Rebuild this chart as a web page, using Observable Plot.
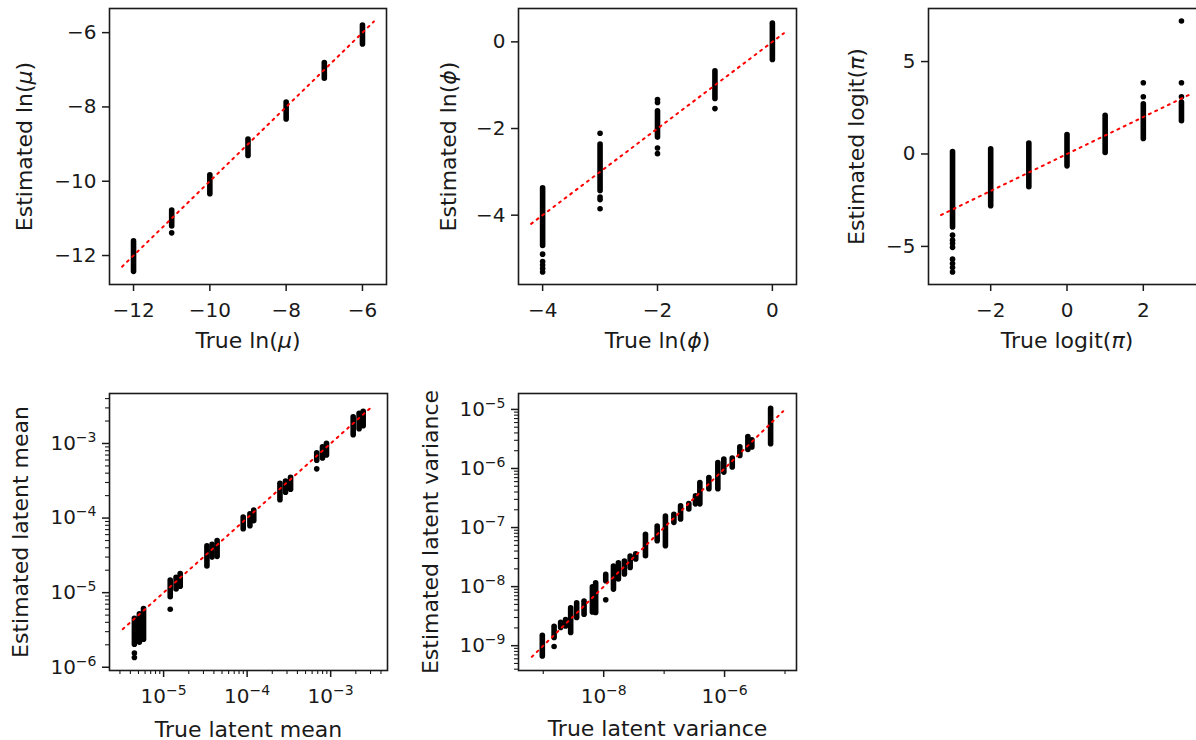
<!DOCTYPE html>
<html>
<head>
<meta charset="utf-8">
<script src="https://cdn.jsdelivr.net/npm/d3@7"></script>
<script src="https://cdn.jsdelivr.net/npm/@observablehq/plot@0.6"></script>
<style>
html, body { margin: 0; padding: 0; background: #fff; overflow: hidden; }
#fig { position: relative; width: 1196px; height: 740px; overflow: hidden; background: #fff; }
#fig > div { position: absolute; }
</style>
</head>
<body>
<div id="fig"></div>
<script>
// ---------------- DATA ----------------
// Panel 1: ln(mu)
const muTrue      = [-12, -11, -10, -9, -8, -7, -6];
const muEstLow    = [-12.44, -11.22, -10.35, -9.32, -8.34, -7.24, -6.32];
const muEstHigh   = [-11.62, -10.79, -9.84, -8.88, -7.88, -6.82, -5.81];
const muOutlierX  = [-11];
const muOutlierY  = [-11.39];
const muRefLine   = [-12.3, -5.7];
const muXDomain   = [-12.63, -5.37];
const muYDomain   = [-12.78, -5.35];
const muXTicks    = [-12, -10, -8, -6];
const muYTicks    = [-12, -10, -8, -6];

// Panel 2: ln(phi)
const phiTrue     = [-4, -3, -2, -1, 0];
const phiEstLow   = [-4.71, -3.44, -2.21, -1.32, -0.42];
const phiEstHigh  = [-3.38, -2.37, -1.60, -0.68, 0.42];
const phiOutlierX = [-4, -4, -4, -4, -4, -3, -3, -3, -3, -2, -2, -2, -2, -1];
const phiOutlierY = [-4.90, -5.07, -5.15, -5.23, -5.31, -2.11, -3.58, -3.64, -3.85, -1.33, -1.40, -2.45, -2.58, -1.54];
const phiRefLine  = [-4.2, 0.2];
const phiXDomain  = [-4.42, 0.42];
const phiYDomain  = [-5.6, 0.77];
const phiXTicks   = [-4, -2, 0];
const phiYTicks   = [-4, -2, 0];

// Panel 3: logit(pi)
const piTrue      = [-3, -2, -1, 0, 1, 2, 3];
const piEstLow    = [-3.97, -2.83, -1.80, -0.67, 0.05, 0.81, 1.77];
const piEstHigh   = [0.11, 0.25, 0.57, 1.03, 2.06, 2.69, 2.78];
const piOutlierX  = [-3, -3, -3, -3, -3, -3, -3, -3, 2, 2, 3, 3, 3];
const piOutlierY  = [-4.39, -4.66, -4.84, -5.05, -5.69, -5.92, -6.14, -6.38, 3.10, 3.85, 3.10, 3.85, 7.19];
const piRefLine   = [-3.3, 3.3];
const piXDomain   = [-3.63, 3.63];
const piYDomain   = [-7.06, 7.87];
const piXTicks    = [-2, 0, 2];
const piYTicks    = [-5, 0, 5];

// Panel 4: latent mean (log-log)
const meanTrue    = [4.47e-6, 5.13e-6, 5.75e-6, 1.2e-5, 1.41e-5, 1.58e-5, 3.3e-5, 3.8e-5, 4.37e-5, 8.97e-5, 1.08e-4, 1.2e-4, 2.47e-4, 2.88e-4, 3.31e-4, 6.81e-4, 7.98e-4, 8.91e-4, 1.86e-3, 2.19e-3, 2.45e-3];
const meanEstLow  = [2.0e-6, 2.14e-6, 2.34e-6, 8.7e-6, 1.1e-5, 1.2e-5, 2.24e-5, 2.95e-5, 3.02e-5, 7.08e-5, 7.76e-5, 9.1e-5, 1.74e-4, 2.19e-4, 2.4e-4, 5.89e-4, 6.31e-4, 6.92e-4, 1.29e-3, 1.55e-3, 1.7e-3];
const meanEstHigh = [4.47e-6, 5.13e-6, 6.03e-6, 1.45e-5, 1.58e-5, 1.78e-5, 4.17e-5, 4.37e-5, 4.9e-5, 1.02e-4, 1.12e-4, 1.26e-4, 2.88e-4, 3.09e-4, 3.47e-4, 7.41e-4, 8.91e-4, 9.89e-4, 2.24e-3, 2.51e-3, 2.66e-3];
const meanOutlierX = [4.47e-6, 4.47e-6, 1.2e-5, 6.81e-4];
const meanOutlierY = [1.55e-6, 1.35e-6, 6.0e-6, 4.57e-4];
const meanRefLine = [3.24e-6, 3.24e-3];
const meanXDomain = [2.25e-6, 4.79e-3];
const meanYDomain = [9.04e-7, 4.68e-3];
const meanXTicks  = [1e-5, 1e-4, 1e-3];
const meanYTicks  = [1e-6, 1e-5, 1e-4, 1e-3];

// Panel 5: latent variance (log-log)
const varTrue     = [9.64e-10, 1.51e-9, 1.94e-9, 2.34e-9, 2.84e-9, 3.57e-9, 4.73e-9, 6.5e-9, 7.36e-9, 1.08e-8, 1.45e-8, 1.75e-8, 2.2e-8, 2.74e-8, 3.39e-8, 4.91e-8, 7.67e-8, 1.05e-7, 1.45e-7, 1.87e-7, 2.56e-7, 3.3e-7, 3.9e-7, 5.5e-7, 7.74e-7, 9.72e-7, 1.34e-6, 1.79e-6, 2.43e-6, 2.83e-6, 5.78e-6];
const varEstLow   = [6.56e-10, 1.35e-9, 2.0e-9, 2.12e-9, 1.64e-9, 2.94e-9, 3.35e-9, 3.66e-9, 3.57e-9, 1.23e-8, 8.91e-9, 1.32e-8, 1.6e-8, 2.07e-8, 2.88e-8, 3.27e-8, 5.87e-8, 4.83e-8, 1.2e-7, 1.37e-7, 2.03e-7, 2.47e-7, 2.47e-7, 4.44e-7, 4.44e-7, 8.51e-7, 1.04e-6, 1.63e-6, 2.06e-6, 2.26e-6, 2.58e-6];
const varEstHigh  = [1.47e-9, 2.09e-9, 2.45e-9, 2.72e-9, 4.29e-9, 5.21e-9, 5.56e-9, 9.73e-9, 1.14e-8, 1.58e-8, 2.19e-8, 2.49e-8, 2.66e-8, 3.24e-8, 3.53e-8, 7.55e-8, 1.04e-7, 1.54e-7, 1.65e-7, 2.28e-7, 2.49e-7, 3.37e-7, 5.68e-7, 6.9e-7, 1.24e-6, 1.42e-6, 1.47e-6, 2.29e-6, 3.39e-6, 3.01e-6, 1.02e-5];
const varOutlierX = [1.51e-9, 1.08e-8];
const varOutlierY = [9.7e-10, 6.01e-9];
const varRefLine  = [6.46e-10, 9.33e-6];
const varXDomain  = [3.89e-10, 1.55e-5];
const varYDomain  = [3.8e-10, 1.86e-5];
const varXTicks   = [1e-8, 1e-6];
const varXMinor   = [1e-9, 1e-7, 1e-5];
const varYTicks   = [1e-9, 1e-8, 1e-7, 1e-6, 1e-5];

// ---------------- HELPERS ----------------
const NS = "http://www.w3.org/2000/svg";
const FS = 20;      // tick label size
const LFS = 22;     // axis label size
const SUP = {"-": "\u207B", "0": "\u2070", "1": "\u00B9", "2": "\u00B2", "3": "\u00B3", "4": "\u2074", "5": "\u2075", "6": "\u2076", "7": "\u2077", "8": "\u2078", "9": "\u2079"};
const UNSUP = Object.fromEntries(Object.entries(SUP).map(([k, v]) => [v, k === "-" ? "\u2212" : k]));
const fmtLin = d => (d < 0 ? "\u2212" + Math.abs(d) : String(d));
const fmtPow = d => "10" + String(Math.round(Math.log10(d))).replace(/[-0-9]/g, c => SUP[c]);

const stripTable = (xs, lo, hi) => xs.map((x, i) => ({x, lo: lo[i], hi: hi[i]}));
const pointTable = (xs, ys) => xs.map((x, i) => ({x, y: ys[i]}));
const lineTable = ends => ends.map(v => ({x: v, y: v}));
const minorLog = (domain, majors) => d3.scaleLog().domain(domain).ticks()
  .filter(t => !majors.some(m => Math.abs(m - t) / m < 1e-9));

function finishText(svg) {
  svg.querySelectorAll('g[aria-label$="axis label"] text').forEach(t => {
    t.style.fontSize = LFS + "px";
  });
  svg.querySelectorAll("text").forEach(t => {
    const s = t.textContent;
    const m = /^10([\u207B\u2070\u00B9\u00B2\u00B3\u2074-\u2079]+)$/.exec(s);
    if (m) {
      t.textContent = "10";
      const ts = document.createElementNS(NS, "tspan");
      ts.setAttribute("font-size", "14");
      ts.setAttribute("dy", "-8");
      ts.textContent = [...m[1]].map(c => UNSUP[c]).join("");
      t.appendChild(ts);
    } else if (/[\u03BC\u03D5\u03C0]/.test(s)) {
      t.textContent = "";
      for (const part of s.split(/([\u03BC\u03D5\u03C0])/)) {
        if (!part) continue;
        const ts = document.createElementNS(NS, "tspan");
        ts.textContent = part;
        if (/[\u03BC\u03D5\u03C0]/.test(part)) ts.setAttribute("font-style", "italic");
        t.appendChild(ts);
      }
    }
  });
}

function drawPanel(cfg) {
  const ml = 110, mt = 10, mr = 14, mb = 74;
  const W = ml + cfg.fw + mr, H = mt + cfg.fh + mb;
  const marks = [
    Plot.ruleX(stripTable(cfg.xs, cfg.lo, cfg.hi), {x: "x", y1: "lo", y2: "hi", stroke: "#000", strokeWidth: 5.6, strokeLinecap: "round"}),
    Plot.dot(pointTable(cfg.ox, cfg.oy), {x: "x", y: "y", r: 2.8, fill: "#000"}),
    Plot.line(lineTable(cfg.ref), {x: "x", y: "y", stroke: "#ff0000", strokeWidth: 2, strokeDasharray: "2,5"})
  ];
  if (cfg.xMinor) marks.push(Plot.axisX({ticks: cfg.xMinor, tickSize: 4, tickFormat: () => "", label: null, strokeWidth: 1.1}));
  if (cfg.yMinor) marks.push(Plot.axisY({ticks: cfg.yMinor, tickSize: 4, tickFormat: () => "", label: null, strokeWidth: 1.1}));
  marks.push(Plot.axisX({ticks: cfg.xTicks, tickSize: 7, tickPadding: 11, tickFormat: cfg.fmt, fontSize: FS,
    label: cfg.xLabel, labelAnchor: "center", labelArrow: "none", labelOffset: cfg.xLabelOffset, strokeWidth: 1.5}));
  marks.push(Plot.axisY({ticks: cfg.yTicks, tickSize: 7, tickPadding: 6, tickFormat: cfg.fmt, fontSize: FS,
    label: cfg.yLabel, labelAnchor: "center", labelArrow: "none", labelOffset: cfg.yLabelOffset, strokeWidth: 1.5}));
  marks.push(Plot.frame({stroke: "#1a1a1a", strokeWidth: 1.6}));
  const svg = Plot.plot({
    width: W, height: H,
    marginLeft: ml, marginTop: mt, marginRight: mr, marginBottom: mb,
    x: {type: cfg.type, domain: cfg.xDomain},
    y: {type: cfg.type, domain: cfg.yDomain},
    style: {fontFamily: "DejaVu Sans, sans-serif", fontSize: FS + "px", color: "#1a1a1a", background: "white", maxWidth: "none", overflow: "visible"},
    marks
  });
  finishText(svg);
  const holder = document.createElement("div");
  holder.style.left = (cfg.left - ml) + "px";
  holder.style.top = (cfg.top - mt) + "px";
  holder.style.width = W + "px";
  holder.style.height = H + "px";
  holder.appendChild(svg);
  document.getElementById("fig").appendChild(holder);
}

// ---------------- PANELS ----------------
drawPanel({left: 109, top: 8, fw: 277, fh: 276, type: "linear",
  xs: muTrue, lo: muEstLow, hi: muEstHigh, ox: muOutlierX, oy: muOutlierY, ref: muRefLine,
  xDomain: muXDomain, yDomain: muYDomain, xTicks: muXTicks, yTicks: muYTicks, fmt: fmtLin,
  xLabel: "True ln(\u03BC)", yLabel: "Estimated ln(\u03BC)", xLabelOffset: 63, yLabelOffset: 93});

drawPanel({left: 518, top: 8, fw: 278, fh: 276, type: "linear",
  xs: phiTrue, lo: phiEstLow, hi: phiEstHigh, ox: phiOutlierX, oy: phiOutlierY, ref: phiRefLine,
  xDomain: phiXDomain, yDomain: phiYDomain, xTicks: phiXTicks, yTicks: phiYTicks, fmt: fmtLin,
  xLabel: "True ln(\u03D5)", yLabel: "Estimated ln(\u03D5)", xLabelOffset: 63, yLabelOffset: 78});

drawPanel({left: 928, top: 8, fw: 277, fh: 276, type: "linear",
  xs: piTrue, lo: piEstLow, hi: piEstHigh, ox: piOutlierX, oy: piOutlierY, ref: piRefLine,
  xDomain: piXDomain, yDomain: piYDomain, xTicks: piXTicks, yTicks: piYTicks, fmt: fmtLin,
  xLabel: "True logit(\u03C0)", yLabel: "Estimated logit(\u03C0)", xLabelOffset: 63, yLabelOffset: 80});

drawPanel({left: 109, top: 393, fw: 278, fh: 277, type: "log",
  xs: meanTrue, lo: meanEstLow, hi: meanEstHigh, ox: meanOutlierX, oy: meanOutlierY, ref: meanRefLine,
  xDomain: meanXDomain, yDomain: meanYDomain, xTicks: meanXTicks, yTicks: meanYTicks, fmt: fmtPow,
  xMinor: minorLog(meanXDomain, meanXTicks), yMinor: minorLog(meanYDomain, meanYTicks),
  xLabel: "True latent mean", yLabel: "Estimated latent mean", xLabelOffset: 66, yLabelOffset: 97});

drawPanel({left: 518, top: 393, fw: 278, fh: 277, type: "log",
  xs: varTrue, lo: varEstLow, hi: varEstHigh, ox: varOutlierX, oy: varOutlierY, ref: varRefLine,
  xDomain: varXDomain, yDomain: varYDomain, xTicks: varXTicks, yTicks: varYTicks, fmt: fmtPow,
  xMinor: varXMinor, yMinor: minorLog(varYDomain, varYTicks),
  xLabel: "True latent variance", yLabel: "Estimated latent variance", xLabelOffset: 65, yLabelOffset: 96});
</script>
</body>
</html>
